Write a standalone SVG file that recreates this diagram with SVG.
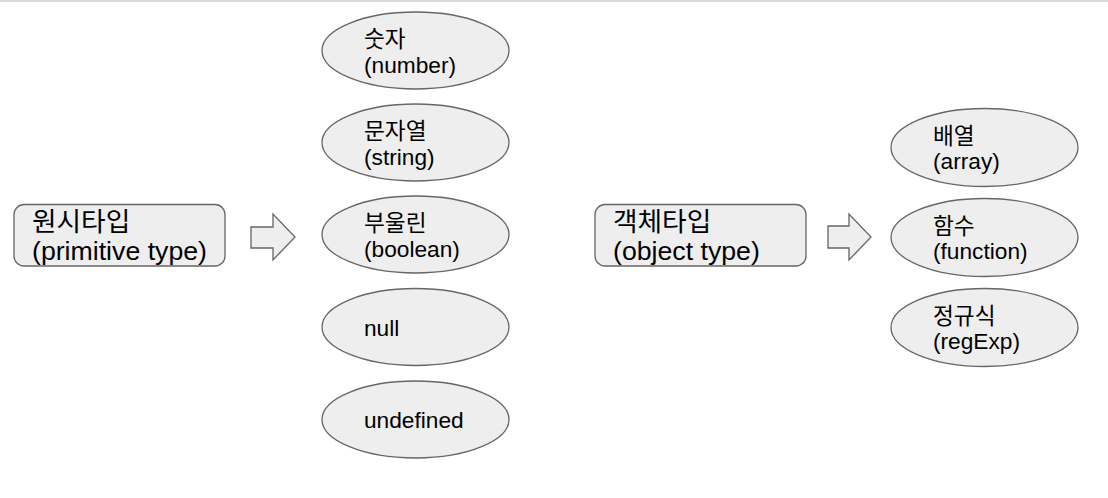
<svg xmlns="http://www.w3.org/2000/svg" width="1108" height="498" viewBox="0 0 1108 498">
<style>
.shape{fill:#eeeeee;stroke:#666666;stroke-width:1.3}
.t{font-family:"Liberation Sans","Noto Sans CJK KR",sans-serif;fill:#000000}
.s{font-size:22.7px}
.b{font-size:26.7px}
</style>
<rect x="0" y="0" width="1108" height="498" fill="#ffffff"/>
<line x1="0" y1="1" x2="1108" y2="1" stroke="#d9d9d9" stroke-width="2"/>
<g id="connectors">
<polygon class="shape" points="251,227 273,227 273,214 295,237 273,260 273,248 251,248"/>
<polygon class="shape" points="828,226 849,226 849,214 871,237 849,260 849,248 828,248"/>
</g>
<g id="primitive">
<rect class="shape" x="14" y="204.5" width="211" height="61.5" rx="10"/>
<text class="t b" x="32" y="230.5">원시타입</text>
<text class="t b" x="32" y="260">(primitive type)</text>
</g>
<g id="number">
<ellipse class="shape" cx="415.5" cy="50.5" rx="93.5" ry="38.5"/>
<text class="t s" x="364" y="46.5">숫자</text>
<text class="t s" x="364" y="72.5">(number)</text>
</g>
<g id="string">
<ellipse class="shape" cx="415.5" cy="142.5" rx="93.5" ry="38.5"/>
<text class="t s" x="364" y="138.5">문자열</text>
<text class="t s" x="364" y="164.5">(string)</text>
</g>
<g id="boolean">
<ellipse class="shape" cx="415.5" cy="234.5" rx="93.5" ry="38.5"/>
<text class="t s" x="364" y="230.5">부울린</text>
<text class="t s" x="364" y="256.5">(boolean)</text>
</g>
<g id="null">
<ellipse class="shape" cx="415.5" cy="327" rx="93.5" ry="38.5"/>
<text class="t s" x="364" y="336">null</text>
</g>
<g id="undefined">
<ellipse class="shape" cx="415.5" cy="419.5" rx="93.5" ry="38.5"/>
<text class="t s" x="364" y="427.5">undefined</text>
</g>
<g id="object">
<rect class="shape" x="595" y="204.5" width="211" height="61.5" rx="10"/>
<text class="t b" x="613" y="230.5">객체타입</text>
<text class="t b" x="613" y="259.5">(object type)</text>
</g>
<g id="array">
<ellipse class="shape" cx="984.5" cy="147.5" rx="93.5" ry="39"/>
<text class="t s" x="933" y="144">배열</text>
<text class="t s" x="933" y="169">(array)</text>
</g>
<g id="function">
<ellipse class="shape" cx="984.5" cy="237.5" rx="93.5" ry="39"/>
<text class="t s" x="933" y="234">함수</text>
<text class="t s" x="933" y="259">(function)</text>
</g>
<g id="regexp">
<ellipse class="shape" cx="984.5" cy="327.5" rx="93.5" ry="39"/>
<text class="t s" x="933" y="324">정규식</text>
<text class="t s" x="933" y="349">(regExp)</text>
</g>
</svg>
